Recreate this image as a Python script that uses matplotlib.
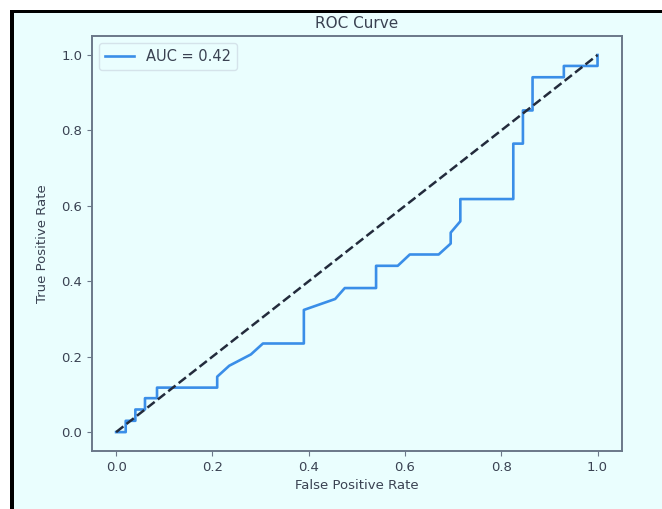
import matplotlib
matplotlib.use('Agg')
import matplotlib.pyplot as plt
from matplotlib.patches import Rectangle

# ROC curve points
fpr = [0.0, 0.02, 0.02, 0.04, 0.04, 0.06, 0.06, 0.085, 0.085, 0.21, 0.21, 0.235,
       0.28, 0.305, 0.39, 0.39, 0.455, 0.475, 0.54, 0.54, 0.585, 0.61, 0.67,
       0.695, 0.695, 0.715, 0.715, 0.825, 0.825, 0.845, 0.845, 0.865, 0.865,
       0.93, 0.93, 1.0, 1.0]
tpr = [0.0, 0.0, 0.03, 0.03, 0.06, 0.06, 0.09, 0.09, 0.118, 0.118, 0.147, 0.176,
       0.206, 0.235, 0.235, 0.324, 0.353, 0.382, 0.382, 0.441, 0.441, 0.471, 0.471,
       0.5, 0.529, 0.559, 0.618, 0.618, 0.765, 0.765, 0.853, 0.853, 0.941,
       0.941, 0.971, 0.971, 1.0]
auc_label = 'AUC = 0.42'
ticks = [0.0, 0.2, 0.4, 0.6, 0.8, 1.0]

bg = '#eafefe'
text_col = '#3a4252'
spine_col = '#6b7889'

plt.rcParams['font.size'] = 9.5
plt.rcParams['text.color'] = text_col
plt.rcParams['axes.labelcolor'] = text_col
plt.rcParams['xtick.color'] = spine_col
plt.rcParams['ytick.color'] = spine_col
plt.rcParams['xtick.labelcolor'] = text_col
plt.rcParams['ytick.labelcolor'] = text_col

fig = plt.figure(figsize=(6.62, 5.09), dpi=100)
fig.patch.set_facecolor(bg)
ax = fig.add_axes([0.139, 0.114, 0.8, 0.815])
ax.set_facecolor(bg)

ax.plot(fpr, tpr, color='#3a8ee8', lw=1.9, label=auc_label)
ax.plot([0, 1], [0, 1], color='#232b3c', lw=1.8, linestyle='--')

ax.set_xlim(-0.05, 1.05)
ax.set_ylim(-0.05, 1.05)
ax.set_xticks(ticks)
ax.set_yticks(ticks)
ax.set_xlabel('False Positive Rate')
ax.set_ylabel('True Positive Rate', labelpad=9)
ax.set_title('ROC Curve', fontsize=11)
for s in ax.spines.values():
    s.set_color(spine_col)
    s.set_linewidth(1.4)

leg = ax.legend(loc='upper left', fontsize=10.5)
leg.get_frame().set_facecolor(bg)
leg.get_frame().set_edgecolor('#d0dde6')

# screenshot frame: white strip and black border at the top and left
W, H = 662, 509
fig.add_artist(Rectangle((0, 1 - 10 / H), 1, 10 / H, transform=fig.transFigure,
                         facecolor='white', edgecolor='none'))
fig.add_artist(Rectangle((0, 0), 10 / W, 1, transform=fig.transFigure,
                         facecolor='white', edgecolor='none'))
fig.add_artist(Rectangle((10 / W, 1 - 13 / H), 1, 3 / H, transform=fig.transFigure,
                         facecolor='black', edgecolor='none'))
fig.add_artist(Rectangle((10 / W, 0), 4 / W, 1 - 10 / H, transform=fig.transFigure,
                         facecolor='black', edgecolor='none'))

plt.savefig('out.png', dpi=100, facecolor=bg)
